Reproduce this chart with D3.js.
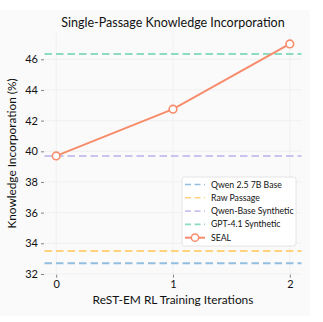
<!DOCTYPE html>
<html><head><meta charset="utf-8">
<script src="https://cdn.jsdelivr.net/npm/d3@7"></script>
<style>
html,body{margin:0;padding:0;background:#fff;}
svg{display:block;font-family:Lato, "Noto Sans", sans-serif;}
</style></head><body>
<script>
const iterations = [0, 1, 2];
const sealValues = [39.7, 42.75, 47.0];
const baselineNames = ["Qwen 2.5 7B Base", "Raw Passage", "Qwen-Base Synthetic", "GPT-4.1 Synthetic"];
const baselineValues = [32.7, 33.5, 39.7, 46.35];
const baselineColors = ["#93bedf", "#ffd27e", "#c9c3ef", "#8ddcc1"];
const sealName = "SEAL";
const sealColor = "#f78c6c";
const yTicks = [32, 34, 36, 38, 40, 42, 44, 46];
const xTicks = [0, 1, 2];
const title = "Single-Passage Knowledge Incorporation";
const xLabel = "ReST-EM RL Training Iterations";
const yLabel = "Knowledge Incorporation (%)";

const W = 323, H = 322;
const svg = d3.select("body").append("svg").attr("width", W).attr("height", H);
svg.append("rect").attr("x", 0).attr("y", 10).attr("width", 310).attr("height", 306).attr("fill", "#fafafa");

const m = {l: 44.5, r: 301.5, t: 33, b: 274};
const x = d3.scaleLinear().domain([-0.1, 2.1]).range([m.l, m.r]);
const y = d3.scaleLinear().domain([31.985, 47.715]).range([m.b + 0.2, m.t]);

const g = svg.append("g");
// grid
g.selectAll(".gy").data(yTicks).join("line")
  .attr("x1", m.l).attr("x2", m.r).attr("y1", d => y(d)).attr("y2", d => y(d))
  .attr("stroke", "#eeeeee").attr("stroke-width", 0.8);
g.selectAll(".gx").data(xTicks).join("line")
  .attr("y1", m.t).attr("y2", y(31.985)).attr("x1", d => x(d)).attr("x2", d => x(d))
  .attr("stroke", "#eeeeee").attr("stroke-width", 0.8);

// axes
const yAxis = d3.axisLeft(y).tickValues(yTicks).tickSize(3).tickPadding(3).tickFormat(d3.format("d"));
const ya = svg.append("g").attr("transform", `translate(${m.l - 0.5},0)`).call(yAxis);
const xAxis = d3.axisBottom(x).tickValues(xTicks).tickSize(3).tickPadding(3).tickFormat(d3.format("d"));
const xa = svg.append("g").attr("transform", `translate(0,${y(31.985) + 0.5})`).call(xAxis);
[ya, xa].forEach(a => {
  a.select(".domain").remove();
  a.selectAll(".tick line").attr("stroke", "#666").attr("stroke-width", 0.8);
  a.selectAll(".tick text").attr("fill", "#111").style("font-size", "11px").style("font-family", "Lato, 'Noto Sans', sans-serif");
});

// baselines
baselineValues.forEach((v, i) => {
  svg.append("line").attr("x1", m.l).attr("x2", m.r).attr("y1", y(v)).attr("y2", y(v))
    .attr("stroke", baselineColors[i]).attr("stroke-width", 2).attr("stroke-dasharray", "7.5,4");
});

// SEAL line
const line = d3.line().x((d, i) => x(iterations[i])).y(d => y(d));
svg.append("path").datum(sealValues).attr("d", line).attr("fill", "none")
  .attr("stroke", sealColor).attr("stroke-width", 2);
svg.selectAll(".pt").data(sealValues).join("circle")
  .attr("cx", (d, i) => x(iterations[i])).attr("cy", d => y(d)).attr("r", 3.8)
  .attr("fill", "#fff").attr("stroke", sealColor).attr("stroke-width", 1.6);

// titles
svg.append("text").attr("x", (m.l + m.r) / 2).attr("y", 27).attr("text-anchor", "middle")
  .style("font-size", "12.5px").attr("fill", "#111").text(title);
svg.append("text").attr("x", (m.l + m.r) / 2).attr("y", 304).attr("text-anchor", "middle")
  .style("font-size", "11.9px").attr("fill", "#111").text(xLabel);
svg.append("text").attr("transform", `translate(16,${(m.t + m.b) / 2}) rotate(-90)`).attr("text-anchor", "middle")
  .style("font-size", "11.8px").attr("fill", "#111").text(yLabel);

// legend
const lg = svg.append("g").attr("transform", "translate(182,177)");
lg.append("rect").attr("width", 114).attr("height", 69).attr("rx", 2.5)
  .attr("fill", "#fff").attr("fill-opacity", 0.85).attr("stroke", "#dddddd").attr("stroke-width", 0.8);
const items = baselineNames.map((n, i) => ({name: n, color: baselineColors[i], seal: false}))
  .concat([{name: sealName, color: sealColor, seal: true}]);
items.forEach((it, i) => {
  const yy = 7.5 + i * 13.3;
  lg.append("line").attr("x1", 3).attr("x2", 23).attr("y1", yy).attr("y2", yy)
    .attr("stroke", it.color).attr("stroke-width", it.seal ? 2 : 1.6)
    .attr("stroke-dasharray", it.seal ? null : "6,3.5");
  if (it.seal) lg.append("circle").attr("cx", 13).attr("cy", yy).attr("r", 3.6)
    .attr("fill", "#fff").attr("stroke", it.color).attr("stroke-width", 1.5);
  lg.append("text").attr("x", 29).attr("y", yy + 3).style("font-size", "8.7px").attr("fill", "#111").text(it.name);
});
</script>
</body></html>
